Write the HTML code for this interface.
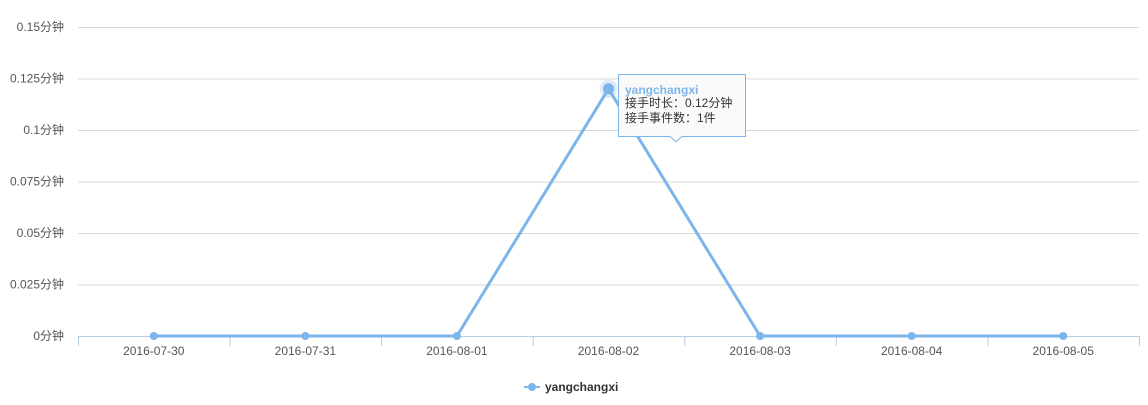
<!DOCTYPE html>
<html><head><meta charset="utf-8"><style>
body{margin:0;background:#fff;width:1148px;height:400px;overflow:hidden;font-family:"Liberation Sans","Noto Sans CJK SC",sans-serif}
</style></head><body>
<svg width="1148" height="400">
<g id="grid"></g><g id="axes"></g><g id="series"></g>
<g>
<path d="M618.5,74.5 H745.5 V136.5 H682 L676,142 L670,136.5 H618.5 Z" fill="#fafafa" stroke="#7cb5ec" stroke-width="1"/>
<text x="625" y="94" font-size="12" font-weight="bold" fill="#7cb5ec">yangchangxi</text>
<text x="625" y="107" font-size="12" fill="#333">接手时长：0.12分钟</text>
<text x="625" y="122" font-size="12" fill="#333">接手事件数：1件</text>
</g>
<g>
<line x1="524" y1="387" x2="540" y2="387" stroke="#7cb5ec" stroke-width="2"/>
<circle cx="532" cy="387" r="4" fill="#7cb5ec"/>
<text x="545" y="391" font-size="12" font-weight="bold" fill="#333">yangchangxi</text>
</g>
</svg>
<script>
const categories=["2016-07-30","2016-07-31","2016-08-01","2016-08-02","2016-08-03","2016-08-04","2016-08-05"];
const values=[0,0,0,0.12,0,0,0];
const yTicks=[0,0.025,0.05,0.075,0.1,0.125,0.15];
const yLabels=["0分钟","0.025分钟","0.05分钟","0.075分钟","0.1分钟","0.125分钟","0.15分钟"];
const NS="http://www.w3.org/2000/svg";
const L=78,R=1139,T=27,B=336,yMax=0.15;
const bw=(R-L)/categories.length;
const xs=i=>L+bw*(i+0.5);
const ys=v=>B-(v/yMax)*(B-T);
function mk(t,a,p){const e=document.createElementNS(NS,t);for(const k in a)e.setAttribute(k,a[k]);p.appendChild(e);return e;}
const grid=document.getElementById('grid'),axes=document.getElementById('axes'),ser=document.getElementById('series');
yTicks.forEach((v,i)=>{
 if(v>0){const g=mk('line',{x1:L,x2:R,y1:ys(v)+0.5,y2:ys(v)+0.5,stroke:'#d8d8d8'},grid);
 
 }
 const t=mk('text',{x:64,y:ys(v)+4,'text-anchor':'end','font-size':12,fill:'#555'},axes);t.textContent=yLabels[i];
 
 
});
const ax=mk('line',{x1:L,x2:R,y1:B+0.5,y2:B+0.5,stroke:'#b8cde6'},axes);


for(let i=0;i<=categories.length;i++){mk('line',{x1:L+bw*i+0.5,x2:L+bw*i+0.5,y1:B,y2:B+10,stroke:'#b8cde6'},axes);}
categories.forEach((c,i)=>{const t=mk('text',{x:xs(i),y:355,'text-anchor':'middle','font-size':12,fill:'#555'},axes);t.textContent=c;
 
 });
const p=mk('polyline',{points:values.map((v,i)=>xs(i)+','+ys(v)).join(' '),fill:'none',stroke:'#7cb5ec','stroke-width':3,'stroke-linejoin':'round'},ser);


const mi=values.indexOf(Math.max(...values));
mk('circle',{cx:xs(mi),cy:ys(values[mi]),r:9,fill:'#7cb5ec','fill-opacity':0.25},ser);
values.forEach((v,i)=>{const c=mk('circle',{cx:xs(i),cy:ys(v),r:i===mi?5.5:4,fill:'#7cb5ec'},ser);
 
 });
</script>
</body></html>
